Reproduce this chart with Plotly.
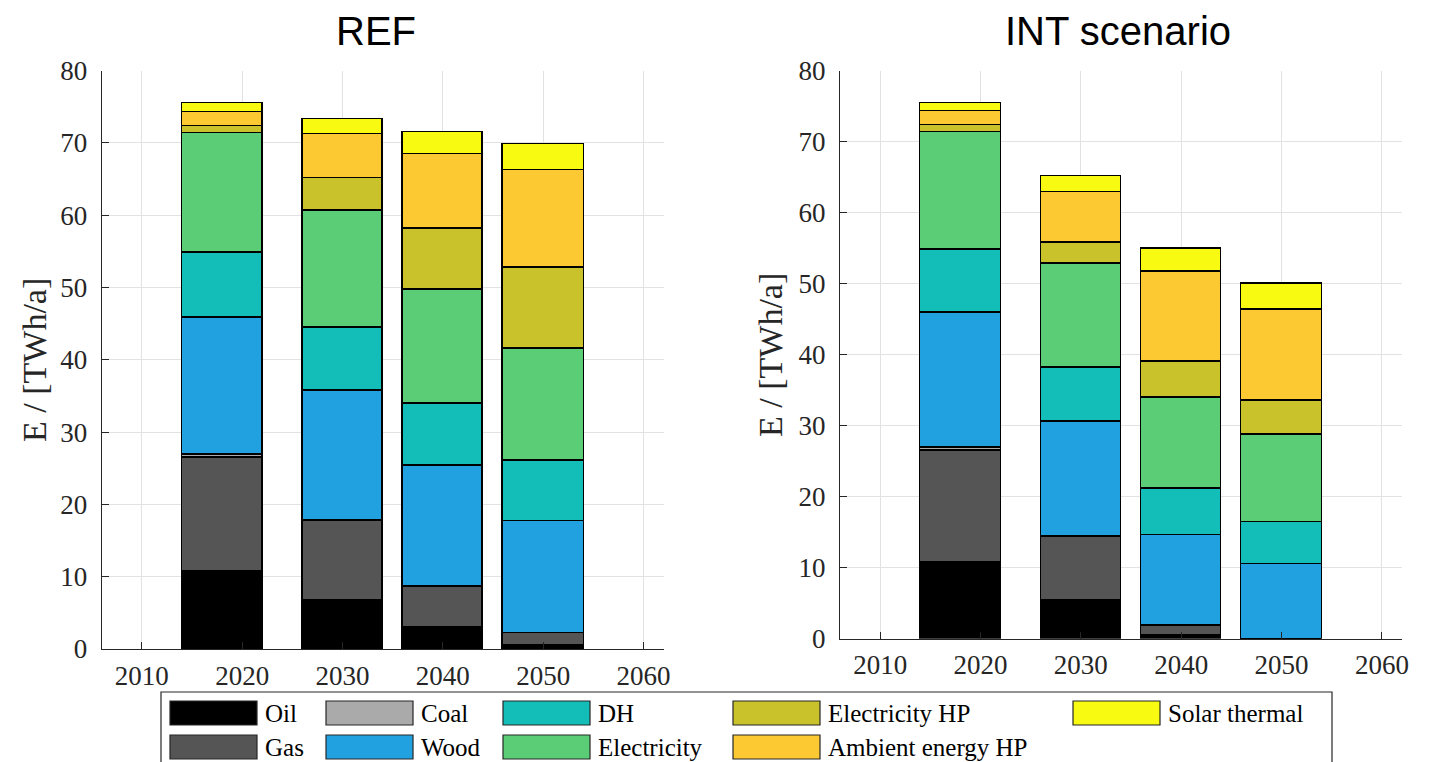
import plotly.graph_objects as go

# ---------------- data ----------------
YEARS = [2018, 2030, 2040, 2050]
X_TICKS = [2010, 2020, 2030, 2040, 2050, 2060]
Y_TICKS = [0, 10, 20, 30, 40, 50, 60, 70, 80]

CARRIERS = ["Oil", "Gas", "Coal", "Wood", "DH", "Electricity",
            "Electricity HP", "Ambient energy HP", "Solar thermal"]

# REF scenario [TWh/a]
REF_OIL = [10.8, 6.8, 3.1, 0.6]
REF_GAS = [15.7, 10.9, 5.5, 1.6]
REF_COAL = [0.4, 0.2, 0.1, 0.05]
REF_WOOD = [19.0, 17.9, 16.7, 15.45]
REF_DH = [8.9, 8.7, 8.55, 8.3]
REF_ELEC = [16.6, 16.2, 15.75, 15.6]
REF_ELEC_HP = [1.0, 4.55, 8.4, 11.1]
REF_AMBIENT = [1.9, 6.1, 10.4, 13.6]
REF_SOLAR = [1.25, 2.0, 3.0, 3.65]

# INT scenario [TWh/a]
INT_OIL = [10.8, 5.5, 0.5, 0.0]
INT_GAS = [15.7, 8.9, 1.4, 0.02]
INT_COAL = [0.4, 0.15, 0.06, 0.0]
INT_WOOD = [19.0, 15.95, 12.65, 10.55]
INT_DH = [8.9, 7.65, 6.55, 5.9]
INT_ELEC = [16.6, 14.65, 12.8, 12.2]
INT_ELEC_HP = [1.0, 3.0, 5.0, 4.9]
INT_AMBIENT = [1.9, 7.1, 12.7, 12.8]
INT_SOLAR = [1.25, 2.25, 3.25, 3.65]

REF_SERIES = [REF_OIL, REF_GAS, REF_COAL, REF_WOOD, REF_DH, REF_ELEC,
              REF_ELEC_HP, REF_AMBIENT, REF_SOLAR]
INT_SERIES = [INT_OIL, INT_GAS, INT_COAL, INT_WOOD, INT_DH, INT_ELEC,
              INT_ELEC_HP, INT_AMBIENT, INT_SOLAR]

COLORS = ["#000000", "#555555", "#aaaaaa", "#22a1e1", "#13beb8",
          "#5ccd77", "#c9c22a", "#fdc933", "#f8fa12"]

# ---------------- layout constants ----------------
W, H = 1432, 762
OFF = 8  # page body margin
BAR_WIDTH = 8
SERIF = "Liberation Serif"
SANS = "Liberation Sans"
AXIS_COLOR = "#262626"
GRID_COLOR = "#e2e2e2"


def px_x(p):
    return (p - OFF) / W


def px_y(p):
    return 1 - (p - OFF) / H


fig = go.Figure()

for name, vals, col in zip(CARRIERS, REF_SERIES, COLORS):
    fig.add_trace(go.Bar(
        x=YEARS, y=vals, name=name, width=BAR_WIDTH,
        marker=dict(color=col, line=dict(color="black", width=1.2)),
        showlegend=False, xaxis="x", yaxis="y"))

for name, vals, col in zip(CARRIERS, INT_SERIES, COLORS):
    fig.add_trace(go.Bar(
        x=YEARS, y=vals, name=name, width=BAR_WIDTH,
        marker=dict(color=col, line=dict(color="black", width=1.2)),
        showlegend=False, xaxis="x2", yaxis="y2"))

axis_common = dict(
    showline=True, linecolor=AXIS_COLOR, linewidth=1.3,
    ticks="inside", ticklen=7, tickcolor=AXIS_COLOR, tickwidth=1.3,
    showgrid=True, gridcolor=GRID_COLOR, gridwidth=1,
    zeroline=False, mirror=False, automargin=False,
    tickfont=dict(family=SERIF, size=27, color=AXIS_COLOR),
)

xcommon = dict(axis_common, range=[2006, 2062], tickmode="array",
               tickvals=X_TICKS, ticktext=[str(t) for t in X_TICKS],
               ticklabelstandoff=2)
ycommon = dict(axis_common, range=[0, 80], tickmode="array",
               tickvals=Y_TICKS, ticktext=[str(t) for t in Y_TICKS],
               ticklabelstandoff=8)

fig.update_layout(
    width=W, height=H,
    margin=dict(l=0, r=0, t=0, b=0, autoexpand=False),
    paper_bgcolor="white", plot_bgcolor="white",
    barmode="stack", bargap=0,
    xaxis=dict(xcommon, domain=[px_x(101.7), px_x(663.6)], anchor="y"),
    yaxis=dict(ycommon, domain=[px_y(649), px_y(70.7)], anchor="x"),
    xaxis2=dict(xcommon, domain=[px_x(840), px_x(1402)], anchor="y2"),
    yaxis2=dict(ycommon, domain=[px_y(638.7), px_y(70.7)], anchor="x2"),
)

annotations = []
# titles (anchored to the top of the figure so they stay fully inside it)
for text, xc in [("REF", 376), ("INT scenario", 1118)]:
    annotations.append(dict(text=text, x=px_x(xc), y=1.0, xref="paper", yref="paper",
                            showarrow=False, xanchor="center", yanchor="top", borderpad=0,
                            font=dict(family=SANS, size=40, color="black")))
# y-axis titles
for xc, yc in [(34, 360), (771, 355)]:
    annotations.append(dict(text="E / [TWh/a]", x=px_x(xc), y=px_y(yc), xref="paper", yref="paper",
                            showarrow=False, xanchor="center", yanchor="middle", textangle=-90,
                            font=dict(family=SERIF, size=34, color=AXIS_COLOR)))

# ---------------- legend (column-major, 2 rows) ----------------
LEG_COL_X = [170, 326, 503, 733, 1073]
LEG_ROW_Y = [701, 735]
SW_W, SW_H = 87, 24
shapes = [dict(type="rect", xref="paper", yref="paper",
               x0=px_x(161), x1=px_x(1332), y0=px_y(766), y1=px_y(692),
               line=dict(color=AXIS_COLOR, width=1.2), fillcolor="white", layer="below")]
for i, (name, col) in enumerate(zip(CARRIERS, COLORS)):
    c, r = i // 2, i % 2
    x0 = LEG_COL_X[c]
    y0 = LEG_ROW_Y[r]
    shapes.append(dict(type="rect", xref="paper", yref="paper",
                       x0=px_x(x0), x1=px_x(x0 + SW_W), y0=px_y(y0 + SW_H), y1=px_y(y0),
                       line=dict(color=AXIS_COLOR, width=1.2), fillcolor=col))
    annotations.append(dict(text=name, x=px_x(x0 + SW_W + 6), y=px_y(y0 + SW_H / 2),
                            xref="paper", yref="paper", showarrow=False,
                            xanchor="left", yanchor="middle",
                            font=dict(family=SERIF, size=25, color="black")))

fig.update_layout(annotations=annotations, shapes=shapes)

fig.write_html("out.html")
